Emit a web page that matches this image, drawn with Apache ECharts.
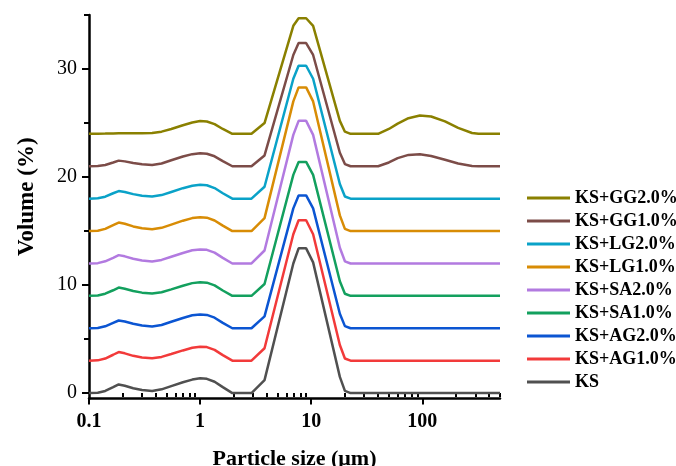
<!DOCTYPE html>
<html>
<head>
<meta charset="utf-8">
<script src="https://cdn.jsdelivr.net/npm/echarts@6/dist/echarts.min.js"></script>
<style>
  html, body { margin: 0; padding: 0; background: #fff; }
  #chart { width: 676px; height: 466px; }
</style>
</head>
<body>
<div id="chart"></div>
<script>
// 粒径分布（各曲線は3%ずつ上にずらして表示）
const SIZES = [0.1, 0.12, 0.14, 0.165, 0.185, 0.21, 0.25, 0.3, 0.37, 0.45, 0.55, 0.7, 0.85, 1.0, 1.15, 1.35, 1.6, 1.95,
  2.9, 3.8, 6.9, 7.7, 9.0, 10.4, 18.1, 20.1, 22.6, 40, 50, 60, 75, 95, 120, 160, 210, 280, 320, 500];

const NAMES = ['KS', 'KS+AG1.0%', 'KS+AG2.0%', 'KS+SA1.0%', 'KS+SA2.0%', 'KS+LG1.0%', 'KS+LG2.0%', 'KS+GG1.0%', 'KS+GG2.0%'];
const OFFSETS = [0, 3, 6, 9, 12, 15, 18, 21, 24];
const COLORS = ['#505050', '#f23a3a', '#0b55d2', '#13a05e', '#b27ae0', '#d88c05', '#0aa2c8', '#7c4c48', '#8a8000'];

const KS   = [0, 0.03, 0.2, 0.55, 0.8, 0.68, 0.45, 0.28, 0.2, 0.35, 0.65, 1.0, 1.25, 1.37, 1.32, 1.05, 0.55, 0,
  0, 1.2, 12.0, 13.4, 13.4, 12.1, 1.5, 0.2, 0, 0, 0, 0, 0, 0, 0, 0, 0, 0, 0, 0];
const AG1  = [0, 0.03, 0.2, 0.55, 0.8, 0.68, 0.45, 0.3, 0.22, 0.35, 0.62, 0.95, 1.2, 1.3, 1.26, 1.0, 0.52, 0,
  0, 1.15, 11.7, 13.0, 13.0, 11.7, 1.45, 0.2, 0, 0, 0, 0, 0, 0, 0, 0, 0, 0, 0, 0];
const AG2  = [0, 0.03, 0.18, 0.5, 0.72, 0.62, 0.42, 0.26, 0.17, 0.3, 0.6, 0.95, 1.2, 1.28, 1.24, 0.98, 0.5, 0,
  0, 1.1, 11.1, 12.3, 12.3, 11.1, 1.35, 0.2, 0, 0, 0, 0, 0, 0, 0, 0, 0, 0, 0, 0];
const SA1  = [0, 0.03, 0.2, 0.52, 0.77, 0.66, 0.45, 0.3, 0.21, 0.33, 0.6, 0.94, 1.18, 1.26, 1.22, 0.97, 0.5, 0,
  0, 1.1, 11.2, 12.4, 12.4, 11.2, 1.35, 0.2, 0, 0, 0, 0, 0, 0, 0, 0, 0, 0, 0, 0];
const SA2  = [0, 0.03, 0.2, 0.52, 0.77, 0.66, 0.44, 0.28, 0.19, 0.33, 0.62, 0.97, 1.22, 1.3, 1.26, 1.0, 0.52, 0,
  0, 1.2, 11.9, 13.2, 13.2, 11.9, 1.45, 0.2, 0, 0, 0, 0, 0, 0, 0, 0, 0, 0, 0, 0];
const LG1  = [0, 0.03, 0.2, 0.55, 0.79, 0.67, 0.43, 0.26, 0.16, 0.3, 0.6, 0.96, 1.2, 1.28, 1.24, 0.98, 0.5, 0,
  0, 1.2, 12.0, 13.3, 13.3, 12.0, 1.45, 0.2, 0, 0, 0, 0, 0, 0, 0, 0, 0, 0, 0, 0];
const LG2  = [0, 0.03, 0.18, 0.5, 0.7, 0.62, 0.42, 0.27, 0.2, 0.33, 0.62, 0.97, 1.2, 1.28, 1.24, 0.98, 0.5, 0,
  0, 1.1, 11.1, 12.3, 12.3, 11.1, 1.35, 0.2, 0, 0, 0, 0, 0, 0, 0, 0, 0, 0, 0, 0];
const GG1  = [0, 0.02, 0.12, 0.35, 0.52, 0.45, 0.3, 0.18, 0.12, 0.25, 0.55, 0.9, 1.12, 1.2, 1.16, 0.92, 0.48, 0,
  0, 1.0, 10.3, 11.4, 11.4, 10.3, 1.25, 0.2, 0, 0, 0.35, 0.75, 1.05, 1.1, 0.95, 0.6, 0.25, 0.02, 0, 0];
const GG2  = [0, 0.01, 0.02, 0.04, 0.05, 0.05, 0.05, 0.05, 0.08, 0.2, 0.45, 0.8, 1.05, 1.18, 1.14, 0.9, 0.45, 0,
  0, 1.0, 10.0, 10.7, 10.7, 10.0, 1.2, 0.2, 0, 0, 0.45, 0.95, 1.45, 1.7, 1.6, 1.15, 0.55, 0.08, 0, 0];
const VALUES = [KS, AG1, AG2, SA1, SA2, LG1, LG2, GG1, GG2];

// 軸（y軸は0より少し下から始まる）
const Y_MIN = -0.5, Y_MAX = 35;
const Y_MAJOR = [0, 10, 20, 30];
const Y_MINOR = [5, 15, 25, 35];
const X_MIN = 0.1, X_MAX = 500;
const X_MAJOR = [0.1, 1, 10, 100];
const X_MINOR = [0.2, 0.3, 0.4, 0.5, 0.6, 0.7, 0.8, 0.9, 2, 3, 4, 5, 6, 7, 8, 9,
  20, 30, 40, 50, 60, 70, 80, 90, 200, 300, 400, 500];

const FONT = '"Liberation Serif", "Times New Roman", serif';
const BLACK = '#000';

const chart = echarts.init(document.getElementById('chart'), null, { renderer: 'canvas' });

const series = NAMES.map((name, i) => ({
  name,
  type: 'line',
  data: SIZES.map((s, j) => [s, VALUES[i][j] + OFFSETS[i]]),
  showSymbol: false,
  symbol: 'none',
  lineStyle: { color: COLORS[i], width: 2.5 },
  itemStyle: { color: COLORS[i] },
  z: 2,
}));

const axisLine = () => ({ show: true, onZero: false, lineStyle: { color: BLACK, width: 2.5 } });
const tick = (len, values) => ({
  show: true, inside: false, length: len, customValues: values, lineStyle: { color: BLACK, width: 2 },
});

chart.setOption({
  backgroundColor: '#fff',
  animation: false,
  color: COLORS,
  grid: { left: 89, right: 176, top: 15, bottom: 67.5, outerBoundsMode: 'none', containLabel: false },
  legend: {
    orient: 'vertical',
    left: 522,
    top: 184,
    data: NAMES.slice().reverse(),
    icon: 'rect',
    itemWidth: 43,
    itemHeight: 3,
    itemGap: 5,
    textStyle: { fontFamily: FONT, fontWeight: 'bold', fontSize: 18, color: BLACK, lineHeight: 18 },
  },
  xAxis: [{
    type: 'log',
    logBase: 10,
    min: X_MIN,
    max: X_MAX,
    name: 'Particle size (\u03bcm)',
    nameLocation: 'middle',
    nameGap: 50,
    nameTextStyle: { fontFamily: FONT, fontWeight: 'bold', fontSize: 22, color: BLACK },
    axisLine: axisLine(),
    axisTick: tick(6, X_MAJOR),
    axisLabel: {
      fontFamily: FONT, fontWeight: 'bold', fontSize: 20, color: BLACK, margin: 13,
      customValues: X_MAJOR,
      formatter: (v) => String(v),
    },
    splitLine: { show: false },
  }, {
    type: 'log',
    logBase: 10,
    min: X_MIN,
    max: X_MAX,
    position: 'bottom',
    axisLine: { show: false },
    axisTick: tick(4, X_MINOR),
    axisLabel: { show: false },
    splitLine: { show: false },
  }],
  yAxis: [{
    type: 'value',
    min: Y_MIN,
    max: Y_MAX,
    name: 'Volume (%)',
    nameLocation: 'middle',
    nameGap: 50,
    nameTextStyle: { fontFamily: FONT, fontWeight: 'bold', fontSize: 23, color: BLACK, padding: [0, 0, 0, 20] },
    axisLine: axisLine(),
    axisTick: tick(7, Y_MAJOR),
    axisLabel: { fontFamily: FONT, fontSize: 20, color: BLACK, margin: 12, customValues: Y_MAJOR },
    splitLine: { show: false },
  }, {
    type: 'value',
    min: Y_MIN,
    max: Y_MAX,
    position: 'left',
    axisLine: { show: false },
    axisTick: tick(5, Y_MINOR),
    axisLabel: { show: false },
    splitLine: { show: false },
  }],
  series,
});
</script>
</body>
</html>
